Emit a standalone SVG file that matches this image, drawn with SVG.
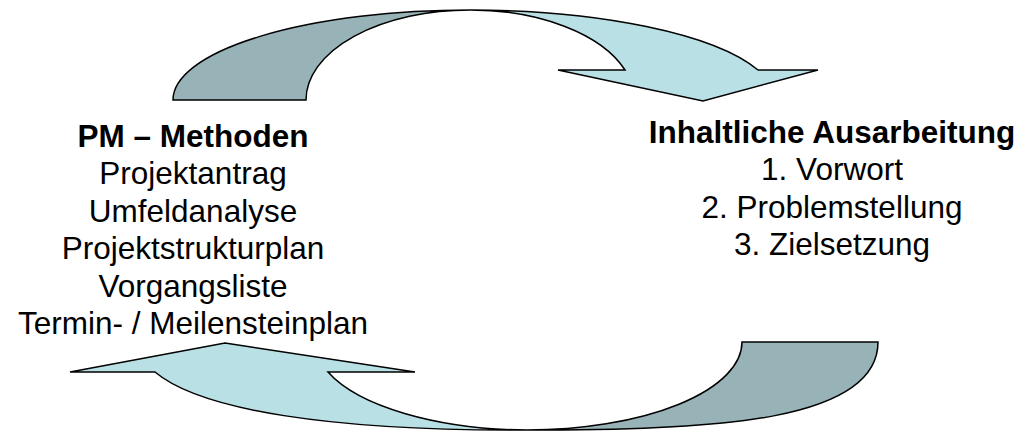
<svg xmlns="http://www.w3.org/2000/svg" width="1024" height="432" viewBox="0 0 1024 432">
<style>
.dark{fill:#97B3B7;stroke:#000;stroke-width:1.5;stroke-linejoin:miter}
.light{fill:#B9E0E4;stroke:#000;stroke-width:1.5;stroke-linejoin:miter}
.t{font-family:"Liberation Sans",Arial,sans-serif;font-size:31.5px;fill:#000;text-anchor:middle}
.b{font-weight:bold}
</style>
<rect width="1024" height="432" fill="#fff"/>
<g id="connectors">
  <g id="arrow-top">
    <path class="dark" d="M173,100 A297,90 0 0 1 470,10 A164,90 0 0 0 306,100 Z"/>
    <path class="light" d="M470,10 A305,90 0 0 1 758,70 L818,70 L703,101 L558,70 L625,70 A164,90 0 0 0 470,10 Z"/>
  </g>
  <g id="arrow-bottom">
    <path class="dark" d="M742,342 L878,342 C878,420 720,431 527,430 A215,88 0 0 0 742,342 Z"/>
    <path class="light" d="M225,343 L415,372 L328,372 A215,88 0 0 0 527,430 C330,431 200,410 155,372 L70,372 Z"/>
  </g>
</g>
<g id="node-pm">
  <text class="t b" x="193" y="146.7">PM – Methoden</text>
  <text class="t" x="193" y="184.2">Projektantrag</text>
  <text class="t" x="193" y="221.7">Umfeldanalyse</text>
  <text class="t" x="193" y="259.2">Projektstrukturplan</text>
  <text class="t" x="193" y="296.7">Vorgangsliste</text>
  <text class="t" x="193" y="334.2">Termin- / Meilensteinplan</text>
</g>
<g id="node-inhalt">
  <text class="t b" x="832" y="143">Inhaltliche Ausarbeitung</text>
  <text class="t" x="832" y="180.4">1. Vorwort</text>
  <text class="t" x="832" y="217.8">2. Problemstellung</text>
  <text class="t" x="832" y="255.2">3. Zielsetzung</text>
</g>
</svg>
